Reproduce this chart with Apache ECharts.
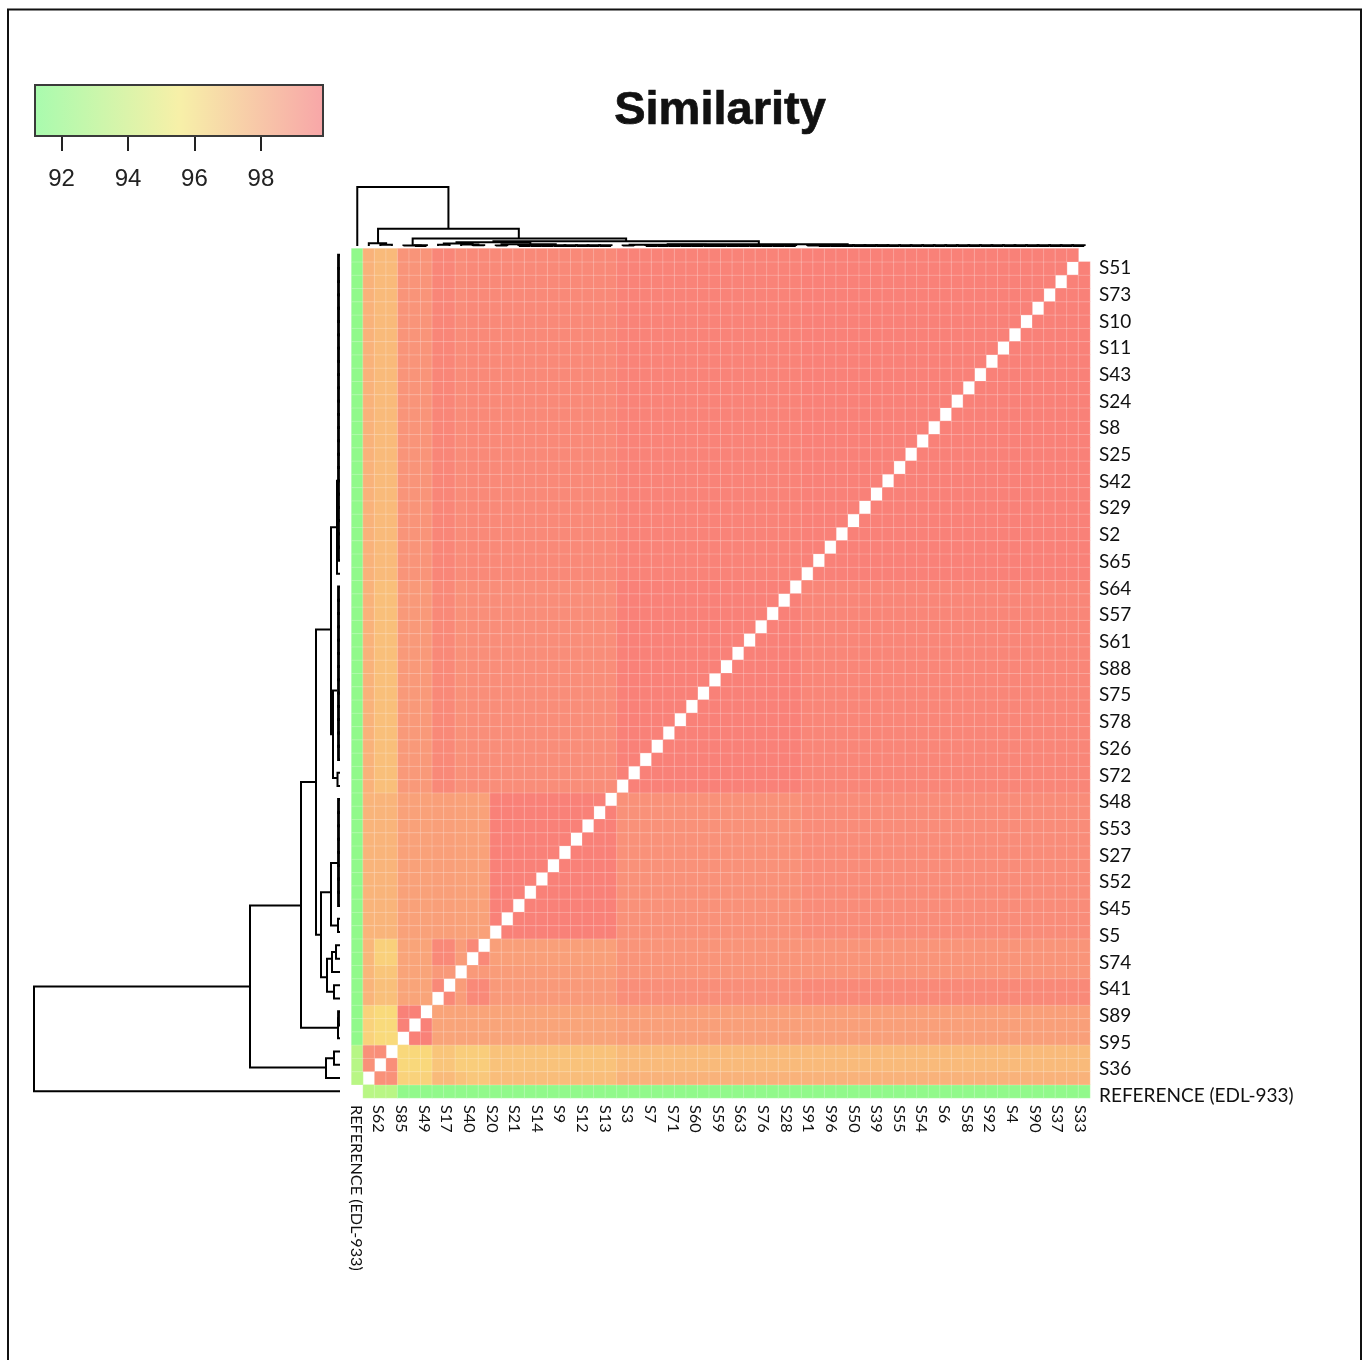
<!DOCTYPE html>
<html><head><meta charset="utf-8">
<style>html,body{margin:0;padding:0;background:#fff}#c{width:1366px;height:1360px}</style>
<script src="https://cdn.jsdelivr.net/npm/echarts@6/dist/echarts.min.js"></script>
</head><body><div id="c"></div>
<script>
const chartTitle = 'Similarity';
const rightLabels = ['S51','S73','S10','S11','S43','S24','S8','S25','S42','S29','S2','S65','S64','S57','S61','S88','S75','S78','S26','S72','S48','S53','S27','S52','S45','S5','S74','S41','S89','S95','S36','REFERENCE (EDL-933)'];
const bottomLabels = ['REFERENCE (EDL-933)','S62','S85','S49','S17','S40','S20','S21','S14','S9','S12','S13','S3','S7','S71','S60','S59','S63','S76','S28','S91','S96','S50','S39','S55','S54','S6','S58','S92','S4','S90','S37','S33'];
const legendRange = [91.2, 99.87];
const legendTicks = [92, 94, 96, 98];

// Similarity by cluster block: how many samples each block holds, counted from the reference outward
const blockSizes = [1, 1, 2, 3, 2, 1, 2, 11, 16, 25];
// One row per block (rows counted from the bottom), one value per column block
const blockRow0 = [null, 93.0, 93.0, 91.4, 91.4, 91.4, 91.4, 91.4, 91.4, 91.4];
const blockRow1 = [93.0, 99.1, 99.1, 96.7, 97.6, 97.3, 97.1, 97.5, 97.9, 97.9];
const blockRow2 = [92.9, 99.1, 99.2, 96.5, 97.2, 96.9, 96.9, 97.3, 97.6, 97.6];
const blockRow3 = [91.4, 96.7, 96.4, 99.7, 98.4, 98.4, 98.4, 98.4, 98.6, 98.6];
const blockRow4 = [91.4, 97.8, 97.4, 98.4, 99.4, 98.7, 99.4, 98.8, 99.2, 99.4];
const blockRow5 = [91.4, 97.7, 97.2, 98.4, 98.8, 99.0, 98.8, 98.7, 99.0, 99.0];
const blockRow6 = [91.4, 97.7, 96.8, 98.4, 99.4, 98.7, 99.4, 98.6, 99.0, 99.0];
const blockRow7 = [91.4, 97.8, 97.8, 98.5, 98.6, 98.5, 98.5, 99.7, 99.1, 99.3];
const blockRow8 = [91.4, 97.9, 97.4, 98.8, 99.4, 99.1, 99.2, 99.25, 99.7, 99.5];
const blockRow9 = [91.4, 97.9, 97.6, 99.0, 99.5, 99.3, 99.4, 99.4, 99.6, 99.7];
const blockRows = [blockRow0, blockRow1, blockRow2, blockRow3, blockRow4, blockRow5, blockRow6, blockRow7, blockRow8, blockRow9];

// Dendrogram: [position A, height A, position B, height B, joining height]
const dendroJoins = [
  [0, 0, 7.9, 90, 306],
  [14, 39, 1.8, 14, 90],
  [1, 0, 2.5, 6, 14],
  [2, 0, 3, 0, 6],
  [23.3, 24, 4.8, 2, 39],
  [4, 0, 5.5, 1.5, 2],
  [5, 0, 6, 0, 1.5],
  [34.8, 9, 11.8, 19, 24],
  [42.5, 3, 26.9, 7, 9],
  [46, 1.5, 39, 0, 3],
  [30.2, 3, 23.6, 2.5, 7],
  [23, 0, 24, 0, 2.5],
  [15, 9, 8.6, 13, 19],
  [17.2, 1.5, 12.5, 2, 9],
  [12, 0, 13, 0, 2],
  [10, 8, 7.5, 6, 13],
  [10.5, 4, 9, 0, 8],
  [10, 0, 11, 0, 4],
  [7, 0, 8, 0, 6]
];
// Tight combs of near-identical samples: [first leaf, last leaf, joining height]
const dendroCombs = [[40, 63, 1.5], [25, 38, 1.5], [14, 22, 1.5]];

const N = 64;
const colorLow = '#8CF98C', colorMid = '#F9F27C', colorHigh = '#F97C78';

const groupOf = [];
blockSizes.forEach((s, g) => { for (let i = 0; i < s; i++) groupOf.push(g); });
const cells = [];
for (let r = 0; r < N; r++) for (let c = 0; c < N; c++) {
  if (r !== c) cells.push([c, r, blockRows[groupOf[r]][groupOf[c]]]);
}
const allJoins = dendroJoins.slice();
dendroCombs.forEach(([a, b, h]) => { for (let k = a; k < b; k++) allJoins.push([k, 0, k + 1, 0, h]); });
const idx = Array.from({length: N}, (_, i) => 'c' + i);

function lineItem(points, w) {
  return { type: 'polyline', shape: { points }, style: { stroke: '#000', lineWidth: w, fill: null, lineJoin: 'miter' } };
}
const widthFor = h => (h <= 1.5 ? 2.8 : 2);
const renderLeft = (p, api) => {
  const [a, ha, b, hb, h] = [0,1,2,3,4].map(i => api.value(i));
  return lineItem([[ha,a],[h,a],[h,b],[hb,b]].map(q => api.coord(q)), widthFor(h));
};
const renderTop = (p, api) => {
  const [a, ha, b, hb, h] = [0,1,2,3,4].map(i => api.value(i));
  return lineItem([[a,ha],[a,h],[b,h],[b,hb]].map(q => api.coord(q)), widthFor(h));
};
const renderLegend = (p, api) => {
  const s = api.coord([api.value(0), 1]), e = api.coord([api.value(1), 0]);
  return { type: 'rect', shape: { x: s[0], y: s[1], width: e[0]-s[0], height: e[1]-s[1] },
    style: { stroke: '#3a3a3a', lineWidth: 2, fill: new echarts.graphic.LinearGradient(0,0,1,0,[
      {offset:0,color:'#A8FBAE'},{offset:0.5,color:'#F7F0A8'},{offset:1,color:'#F8A6A8'}]) } };
};
const noAxis = { show: false };
const chart = echarts.init(document.getElementById('c'), null, { renderer: 'canvas' });
chart.setOption({
  animation: false,
  backgroundColor: '#fff',
  title: { text: chartTitle, left: 715, top: 83, textAlign: 'center',
    textStyle: { fontFamily: 'Liberation Sans', fontWeight: 'bold', fontSize: 47, color: '#111', textBorderColor: '#111', textBorderWidth: 0.7 } },
  graphic: [{ type: 'rect', shape: { x: 8, y: 9.5, width: 1353, height: 1400 }, style: { stroke: '#111', lineWidth: 2, fill: null }, silent: true }],
  grid: [
    { left: 351.5, top: 248.5, width: 738.5, height: 849.5 },
    { left: 34, top: 248.5, width: 306, height: 849.5 },
    { left: 351.5, top: 187, width: 738.5, height: 59 },
    { left: 35, top: 85, width: 288, height: 51 },
    { left: 1000, top: 254.6, width: 90, height: 854.8 },
    { left: 344.7, top: 1000, width: 746.6, height: 98 }
  ],
  xAxis: [
    { gridIndex: 0, type: 'category', data: idx, ...noAxis },
    { gridIndex: 1, type: 'value', inverse: true, min: 0, max: 306, ...noAxis },
    { gridIndex: 2, type: 'value', min: -0.5, max: 63.5, ...noAxis },
    { gridIndex: 3, type: 'value', min: legendRange[0], max: legendRange[1], splitLine: { show: false },
      axisLine: { show: true, lineStyle: { color: '#111', width: 2 } },
      axisTick: { show: true, length: 15, customValues: legendTicks, lineStyle: { color: '#222', width: 2 } },
      axisLabel: { show: true, customValues: legendTicks, margin: 31, fontFamily: 'Liberation Sans', fontSize: 24, color: '#222' } },
    { gridIndex: 4, type: 'value', ...noAxis },
    { gridIndex: 5, type: 'category', data: bottomLabels, position: 'bottom',
      axisLine: { show: false }, axisTick: { show: false },
      axisLabel: { interval: 0, rotate: -90, margin: 7, fontFamily: 'Lato', fontSize: 16.2, color: '#111' } }
  ],
  yAxis: [
    { gridIndex: 0, type: 'category', data: idx, ...noAxis },
    { gridIndex: 1, type: 'value', min: -0.5, max: 63.5, ...noAxis },
    { gridIndex: 2, type: 'value', min: 0, max: 306, ...noAxis },
    { gridIndex: 3, type: 'value', min: 0, max: 1, ...noAxis },
    { gridIndex: 4, type: 'category', inverse: true, data: rightLabels, position: 'right',
      axisLine: { show: false }, axisTick: { show: false },
      axisLabel: { interval: 0, margin: 9, fontFamily: 'Lato', fontSize: 19, color: '#111' } },
    { gridIndex: 5, type: 'value', ...noAxis }
  ],
  visualMap: { show: false, type: 'continuous', seriesIndex: 0, dimension: 2, min: legendRange[0], max: legendRange[1],
    inRange: { color: [colorLow, colorMid, colorHigh] } },
  series: [
    { type: 'heatmap', xAxisIndex: 0, yAxisIndex: 0, data: cells, progressive: 0,
      itemStyle: { borderColor: 'rgba(255,255,255,0.22)', borderWidth: 1 }, silent: true },
    { type: 'custom', xAxisIndex: 1, yAxisIndex: 1, data: allJoins, renderItem: renderLeft, silent: true, clip: false },
    { type: 'custom', xAxisIndex: 2, yAxisIndex: 2, data: allJoins, renderItem: renderTop, silent: true, clip: false },
    { type: 'custom', xAxisIndex: 3, yAxisIndex: 3, data: [legendRange], renderItem: renderLegend, silent: true, clip: false }
  ]
});
</script></body></html>
